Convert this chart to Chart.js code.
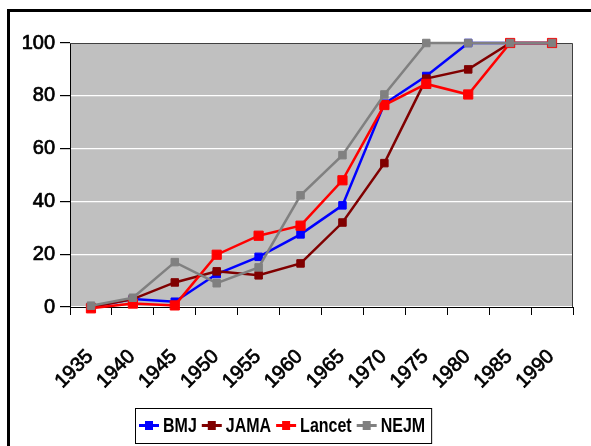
<!DOCTYPE html>
<html>
<head>
<meta charset="utf-8">
<script src="https://cdn.jsdelivr.net/npm/chart.js@4.4.0/dist/chart.umd.min.js"></script>
<style>
  body { margin: 0; background: #fff; }
  #wrap { position: relative; width: 591px; height: 446px; overflow: hidden; }
  #frame { position: absolute; left: 7px; top: 9px; width: 640px; height: 480px; border: 3px solid #000; box-sizing: border-box; }
  canvas { position: absolute; left: 0; top: 0; }
</style>
</head>
<body>
<div id="wrap">
  <div id="frame"></div>
  <canvas id="myChart" width="591" height="446"></canvas>
</div>
<script>
const years = ["1935", "1940", "1945", "1950", "1955", "1960", "1965", "1970", "1975", "1980", "1985", "1990"];
const bmj = [0, 3, 2, 12.5, 19, 27.5, 38.5, 77, 87.5, 100, 100, 100];
const jama = [0, 3, 9.3, 13.5, 12, 16.5, 32, 54.5, 86.5, 90, 100, 100];
const lancet = [-0.5, 1.3, 0.6, 19.8, 27, 30.8, 48, 76.5, 84.5, 80.5, 100, 100];
const nejm = [0.5, 3.5, 17, 9, 15, 42.3, 57.5, 80.5, 100, 100, 100, 100];
const yTicks = [0, 20, 40, 60, 80, 100];

const tickFont = { family: "'Liberation Sans', Arial, sans-serif", size: 20, weight: "normal" };

// grey plot area + thin frame round it
const plotArea = {
  id: "plotArea",
  beforeDraw(chart) {
    const { ctx, chartArea: a } = chart;
    ctx.save();
    ctx.fillStyle = "#C0C0C0";
    ctx.fillRect(a.left, a.top, a.right - a.left, a.bottom - a.top);
    ctx.restore();
  },
  beforeDatasetsDraw(chart) {
    const { ctx, chartArea: a } = chart;
    ctx.save();
    ctx.strokeStyle = "#404040";
    ctx.lineWidth = 1;
    ctx.beginPath();
    ctx.moveTo(a.left, a.top + 0.5);
    ctx.lineTo(a.right - 0.5, a.top + 0.5);
    ctx.lineTo(a.right - 0.5, a.bottom);
    ctx.stroke();
    ctx.restore();
  },
};

// boxed legend under the axis, line + square symbol, narrow bold text
const legendBox = {
  id: "legendBox",
  afterDraw(chart) {
    const ctx = chart.ctx;
    ctx.save();
    ctx.font = "bold 20px 'Liberation Sans', Arial, sans-serif";
    ctx.textBaseline = "middle";
    const squeeze = 0.8;
    const left = 135, top = 408, h = 35;
    const y = top + h / 2;
    let x = left + 4;
    chart.data.datasets.forEach((ds) => {
      ctx.strokeStyle = ds.borderColor;
      ctx.lineWidth = 3;
      ctx.beginPath();
      ctx.moveTo(x, y);
      ctx.lineTo(x + 20, y);
      ctx.stroke();
      ctx.fillStyle = ds.borderColor;
      ctx.fillRect(x + 6, y - 4.5, 8, 9);
      ctx.fillStyle = "#000";
      ctx.save();
      ctx.translate(x + 24, y + 1);
      ctx.scale(squeeze, 1);
      ctx.fillText(ds.label, 0, 0);
      ctx.restore();
      x += 24 + ctx.measureText(ds.label).width * squeeze + 5;
    });
    ctx.strokeStyle = "#000";
    ctx.lineWidth = 1;
    ctx.strokeRect(left + 0.5, top + 0.5, x - left + 1, h);
    ctx.restore();
  },
};

function series(label, data, color, radius, order) {
  return {
    label,
    data,
    borderColor: color,
    backgroundColor: color,
    borderWidth: 2.5,
    pointStyle: "rect",
    pointRadius: radius,
    pointBorderWidth: 1,
    pointBorderColor: color,
    pointBackgroundColor: color,
    tension: 0,
    clip: false,
    order,
  };
}

const config = {
  type: "line",
  data: {
    labels: years,
    datasets: [
      series("BMJ", bmj, "#0000FF", 5.3, 4),
      series("JAMA", jama, "#800000", 5.3, 3),
      series("Lancet", lancet, "#FF0000", 6.5, 2),
      series("NEJM", nejm, "#808080", 5.3, 1),
    ],
  },
  options: {
    responsive: false,
    animation: false,
    layout: { padding: { left: 14, right: 18, top: 43, bottom: 0 } },
    plugins: {
      legend: { display: false },
      tooltip: { enabled: false },
    },
    scales: {
      x: {
        offset: true,
        grid: { drawOnChartArea: false, offset: true, tickLength: 8, tickColor: "#000" },
        border: { color: "#000", width: 1 },
        ticks: {
          color: "#000", font: tickFont, minRotation: 45, maxRotation: 45, padding: 30, labelOffset: -1,
          textStrokeColor: "#000", textStrokeWidth: 0.7,
        },
        afterFit(scale) {
          scale.height = 139;
          scale.paddingLeft = 0;
          scale.paddingRight = 0;
        },
      },
      y: {
        min: 0,
        max: 100,
        afterBuildTicks(scale) { scale.ticks = yTicks.map((v) => ({ value: v })); },
        grid: { color: "#FFFFFF", lineWidth: 1.2, tickLength: 10, tickColor: "#000" },
        border: { color: "#000", width: 1 },
        ticks: { color: "#000", font: tickFont, padding: 5, textStrokeColor: "#000", textStrokeWidth: 0.7 },
        afterFit(scale) { scale.width = 56; },
      },
    },
  },
  plugins: [plotArea, legendBox],
};

Chart.defaults.font.family = "'Liberation Sans', Arial, sans-serif";
const myChart = new Chart(document.getElementById("myChart"), config);
</script>
</body>
</html>
